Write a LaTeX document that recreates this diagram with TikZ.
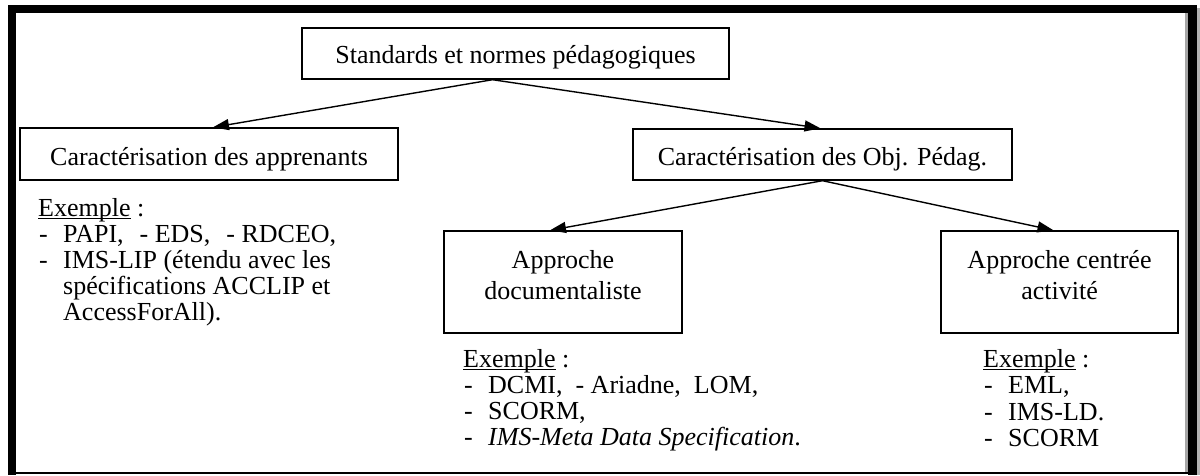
\documentclass[tikz,border=0pt]{standalone}
\usepackage{fontspec}
\setmainfont{Liberation Serif}
\usetikzlibrary{arrows.meta}
\newcommand\myul[1]{\setbox0\hbox{#1}\rlap{\rule[-3pt]{\wd0}{1.1pt}}\box0\relax}
\begin{document}
\begin{tikzpicture}[x=1pt,y=-1pt,
  box/.style={draw, line width=1.4pt, inner sep=0pt, align=center, font=\fontsize{26}{31}\selectfont},
  txt/.style={inner sep=0pt, anchor=base west, font=\fontsize{26}{31}\selectfont},
  arr/.style={line width=1.4pt, -{Triangle[length=16pt,width=11pt]}},
]
\useasboundingbox (0,0) rectangle (1200,475);
% frame
\fill (8,5) rectangle (16,475);
\fill (8,5) rectangle (1197,13);
\fill[gray!70] (1185,13) rectangle (1188,473);
\fill (1188,5) rectangle (1197,475);
\fill[gray!60] (1197,8) rectangle (1200,475);
\draw[line width=1.5pt] (16,473) -- (1188,473);

% boxes
\node[box, minimum width=427pt, minimum height=51pt, text height=20pt, text depth=1pt] (top) at (515.5,53.5) {Standards et normes pédagogiques};
\node[box, minimum width=378pt, minimum height=52pt, text height=22pt, text depth=0pt] (left) at (209,154) {Caractérisation des apprenants};
\node[box, minimum width=379pt, minimum height=51pt, text height=21pt, text depth=0pt] (right) at (822.5,154.5) {Caractérisation des Obj. Pédag.};
\node[box, minimum width=238pt, minimum height=102pt, text height=49pt, text depth=14pt] (doc) at (563,282) {Approche\\documentaliste};
\node[box, minimum width=237pt, minimum height=102pt, text height=49pt, text depth=14pt] (act) at (1059.5,282) {Approche centrée\\activité};

% arrows
\draw[arr] ([xshift=-23pt]top.south) -- ([xshift=4pt]left.north);
\draw[arr] ([xshift=-23pt]top.south) -- ([xshift=-2pt]right.north);
\draw[arr] (right.south) -- ([xshift=-13pt]doc.north);
\draw[arr] (right.south) -- ([xshift=-6pt]act.north);

% left examples
\node[txt] (lex) at (38,216) {\myul{Exemple} :};
\node[txt] (l1) at (39,242) {\makebox[24pt][l]{-}PAPI,\hspace{16pt}- EDS,\hspace{16pt}- RDCEO,};
\node[txt] (l2) at (39,268) {\makebox[24pt][l]{-}IMS-LIP (étendu avec les};
\node[txt] (l3) at (63,294) {spécifications ACCLIP et};
\node[txt] (l4) at (63,320) {AccessForAll).};

% middle examples
\node[txt] (mex) at (463,367) {\myul{Exemple} :};
\node[txt] (m1) at (464,393) {\makebox[24pt][l]{-}DCMI,\ \ - Ariadne,\ \ LOM,};
\node[txt] (m2) at (464,419) {\makebox[24pt][l]{-}SCORM,};
\node[txt] (m3) at (464,445) {\makebox[24pt][l]{-}\textit{IMS-Meta Data Specification}.};

% right examples
\node[txt] (rex) at (983,367) {\myul{Exemple} :};
\node[txt] (r1) at (984,393) {\makebox[24pt][l]{-}EML,};
\node[txt] (r2) at (984,420) {\makebox[24pt][l]{-}IMS-LD.};
\node[txt] (r3) at (984,446) {\makebox[24pt][l]{-}SCORM};
\end{tikzpicture}
\end{document}
